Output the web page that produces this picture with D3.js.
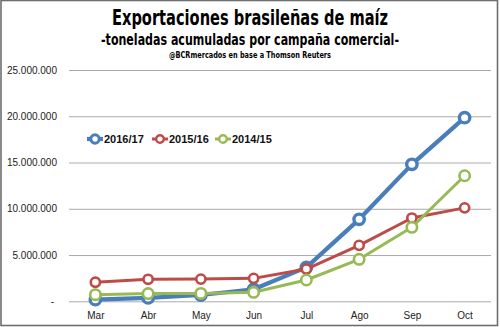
<!DOCTYPE html>
<html><head><meta charset="utf-8">
<script src="https://cdn.jsdelivr.net/npm/d3@7"></script>
<style>html,body{margin:0;padding:0;background:#fff;}svg{display:block;}</style>
</head><body>
<svg id="c" width="500" height="327"></svg>
<script>
const months = ["Mar","Abr","May","Jun","Jul","Ago","Sep","Oct"];
const s2016 = [180000, 360000, 680000, 1300000, 3670000, 8860000, 14800000, 19850000];
const s2015 = [2060000, 2380000, 2400000, 2480000, 3490000, 6050000, 9000000, 10100000];
const s2014 = [720000, 830000, 850000, 970000, 2300000, 4540000, 8000000, 13570000];
const seriesNames = ["2016/17","2015/16","2014/15"];
const yTicks = [0, 5000000, 10000000, 15000000, 20000000, 25000000];
const title = "Exportaciones brasileñas de maíz";
const subtitle = "-toneladas acumuladas por campaña comercial-";
const source = "@BCRmercados en base a Thomson  Reuters";

const colors = ["#4a7ebb","#be4b48","#98b954"];
const widths = [4.2, 3, 3];
const radii = [5.2, 4.6, 5.2];
const series = [s2016, s2015, s2014];

const svg = d3.select("#c");
const x = d3.scalePoint().domain(months).range([69, 491]).padding(0.5);
const y = d3.scaleLinear().domain([0, 25000000]).range([301.3, 70]);

// frame
svg.append("rect").attr("x",1).attr("y",0.5).attr("width",496.5).attr("height",325)
  .attr("fill","none").attr("stroke","#6e6e6e").attr("stroke-width",1.6);

// titles
svg.append("text").text(title).attr("x",250).attr("y",25).attr("text-anchor","middle")
  .attr("font-family","'Liberation Sans Narrow','DejaVu Sans Condensed',sans-serif")
  .attr("font-weight","bold").attr("font-size",21)
  .attr("textLength",276).attr("lengthAdjust","spacingAndGlyphs").attr("fill","#000");
svg.append("text").text(subtitle).attr("x",250).attr("y",45).attr("text-anchor","middle")
  .attr("font-family","'Liberation Sans Narrow','DejaVu Sans Condensed',sans-serif")
  .attr("font-weight","bold").attr("font-size",15)
  .attr("textLength",298).attr("lengthAdjust","spacingAndGlyphs").attr("fill","#000");
svg.append("text").text(source).attr("x",250).attr("y",57.5).attr("text-anchor","middle")
  .attr("font-family","'Liberation Sans Narrow','DejaVu Sans Condensed',sans-serif")
  .attr("font-weight","bold").attr("font-size",9)
  .attr("textLength",162).attr("lengthAdjust","spacingAndGlyphs").attr("fill","#000");

// y axis grid + labels
const fmt = v => v === 0 ? "-" : d3.format(",")(v).replace(/,/g, ".");
const yAxis = d3.axisLeft(y).tickValues(yTicks).tickSize(-422).tickFormat(fmt).tickPadding(12);
const gy = svg.append("g").attr("transform","translate(69,0)").call(yAxis);
gy.select(".domain").remove();
gy.selectAll(".tick line").attr("stroke","#aaaaaa").attr("stroke-width",1);
gy.selectAll(".tick text").attr("font-family","'Liberation Sans',Arial,sans-serif")
  .attr("font-size",10).attr("fill","#222").attr("x",-12);
gy.selectAll(".tick").filter(d => d === 0).select("text").attr("x",-15);

// x axis labels
const xAxis = d3.axisBottom(x).tickSize(0).tickPadding(11);
const gx = svg.append("g").attr("transform","translate(0,301.3)").call(xAxis);
gx.select(".domain").remove();
gx.selectAll(".tick text").attr("font-family","'Liberation Sans',Arial,sans-serif")
  .attr("font-size",10).attr("fill","#222");

// lines
const line = d3.line().x((d,i) => x(months[i])).y(d => y(d));
series.forEach((s, k) => {
  const g = svg.append("g");
  g.append("path").datum(s).attr("d", line).attr("fill","none")
    .attr("stroke", colors[k]).attr("stroke-width", widths[k]).attr("stroke-linejoin","round");
  g.selectAll("circle").data(s).join("circle")
    .attr("cx",(d,i) => x(months[i])).attr("cy", d => y(d)).attr("r", radii[k])
    .attr("fill","#fff").attr("stroke", colors[k]).attr("stroke-width", k===0 ? 3.4 : 2.6);
});

// legend
const legX = [87, 152, 215];
const leg = svg.append("g");
seriesNames.forEach((n, k) => {
  const lg = leg.append("g").attr("transform", `translate(${legX[k]},139)`);
  lg.append("line").attr("x1",0).attr("x2",16).attr("y1",0).attr("y2",0)
    .attr("stroke", colors[k]).attr("stroke-width", widths[k]);
  lg.append("circle").attr("cx",8).attr("cy",0).attr("r", k===0?4.2:3.8).attr("fill","#fff")
    .attr("stroke", colors[k]).attr("stroke-width", k===0?3:2.4);
  lg.append("text").text(n).attr("x",17).attr("y",4).attr("font-family","'Liberation Sans',Arial,sans-serif")
    .attr("font-weight","bold").attr("font-size",11).attr("fill","#111");
});
</script>
</body></html>
